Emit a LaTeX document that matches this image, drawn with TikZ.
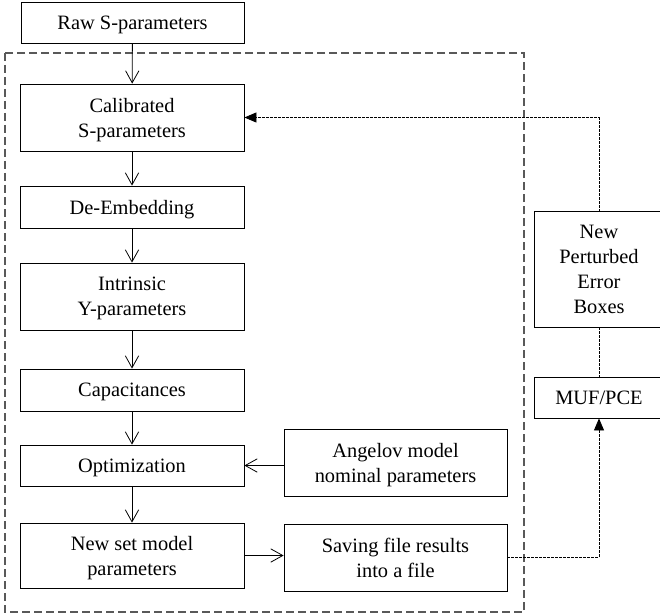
\documentclass[tikz,border=0pt]{standalone}
\usepackage{fontspec}
\setmainfont{Liberation Serif}
\usetikzlibrary{arrows.meta}
\begin{document}
\begin{tikzpicture}[x=0.75pt,y=-0.75pt,
  box/.style={draw, line width=0.6pt, inner sep=0pt, align=center, text depth=0pt,
    font=\fontsize{15.3}{18.8}\selectfont},
  lbox/.style={box, minimum width=168pt},
  openbox/.style={box, draw=none},
  arr/.style={line width=0.6pt, -{Straight Barb[length=9pt,width=10pt,line width=0.6pt]}},
  fb/.style={line width=0.6pt, dash pattern=on 2pt off 1pt, -{Triangle[length=9pt,width=7.5pt]}},
  fbline/.style={line width=0.6pt, dash pattern=on 2pt off 1pt},
  outer/.style={draw=black!65, line width=1pt, dash pattern=on 6pt off 3pt}]
\useasboundingbox (0,0) rectangle (660,613);
\clip (0,0) rectangle (660,613);
\draw[outer] (5,53) rectangle (524,612);
\node[lbox, minimum width=167.25pt, minimum height=30.75pt] (raw) at (132.5,22.5) {Raw S-parameters};
\node[lbox, minimum height=50.25pt] (cal) at (132,117.5) {Calibrated\\S-parameters};
\node[lbox, minimum height=31.5pt] (deemb) at (132,207) {De-Embedding};
\node[lbox, minimum height=50.25pt] (intr) at (132,296.5) {Intrinsic\\Y-parameters};
\node[lbox, minimum height=31.5pt] (cap) at (132,390) {Capacitances};
\node[lbox, minimum height=30.75pt] (opt) at (132,465.5) {Optimization};
\node[lbox, minimum height=48.75pt] (newset) at (132,555.5) {New set model\\parameters};
\node[box, minimum width=167.25pt, minimum height=50.25pt] (ang) at (395.5,462.5) {Angelov model\\nominal parameters};
\node[box, minimum width=167.25pt, minimum height=50.25pt] (save) at (395.5,557.5) {Saving file results\\into a file};
\node[openbox, minimum width=96pt, minimum height=86.25pt] (pert) at (599,269.5) {New\\Perturbed\\Error\\Boxes};
\node[openbox, minimum width=96pt, minimum height=30pt] (muf) at (599,398) {MUF/PCE};
\draw[line width=0.6pt] ([xshift=20pt]pert.north east) -- (pert.north west) -- (pert.south west) -- ([xshift=20pt]pert.south east);
\draw[line width=0.6pt] ([xshift=20pt]muf.north east) -- (muf.north west) -- (muf.south west) -- ([xshift=20pt]muf.south east);
\draw[arr] (raw) -- (cal);
\draw[arr] (cal) -- (deemb);
\draw[arr] (deemb) -- (intr);
\draw[arr] (intr) -- (cap);
\draw[arr] (cap) -- (opt);
\draw[arr] (opt) -- (newset);
\draw[arr] (ang.west |- opt.east) -- (opt.east);
\draw[arr] (newset.east) -- (newset.east -| save.west);
\draw[fb] (pert.north) |- (cal.east);
\draw[fbline] (pert) -- (muf);
\draw[fb] (save.east) -| (muf.south);
\end{tikzpicture}
\end{document}
